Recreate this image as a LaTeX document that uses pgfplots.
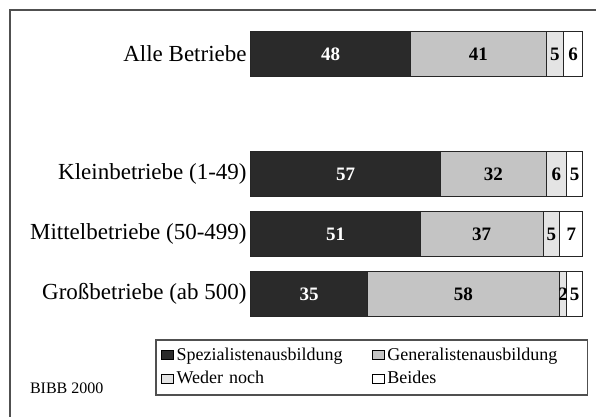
\documentclass[border=0pt]{standalone}
\usepackage{fontspec}
\setmainfont{Liberation Serif}
\usepackage{pgfplots}
\usepackage{pgfplotstable}
\pgfplotsset{compat=1.18}

\definecolor{spez}{HTML}{2A2A2A}
\definecolor{gen}{HTML}{C4C4C4}
\definecolor{weder}{HTML}{E4E4E4}
\definecolor{rahmen}{HTML}{505050}

% y: 0 = Grossbetriebe ... 4 = Alle Betriebe
\pgfplotstableread{
y spez gen weder beides
0 35 58 2 5
1 51 37 5 7
2 57 32 6 5
4 48 41 5 6
}\anteile

\begin{document}
\begin{tikzpicture}
% 1 px of the scan = 0.5pt
\path[use as bounding box] (0pt,0pt) rectangle (298pt,208.5pt);
% frame (only left and top edge are visible in the scan)
\draw[rahmen, line width=1pt] (5pt,0pt) -- (5pt,203.5pt) -- (298pt,203.5pt);
\node[anchor=west, font=\fontsize{8}{9}\selectfont] at (11.5pt,14.5pt) {BIBB 2000};

\begin{axis}[
  at={(125.5pt,61.5pt)}, anchor=origin,
  x=1.66pt, y=30pt,
  xmin=0, xmax=100, ymin=-0.6, ymax=4.6,
  xbar stacked, bar width=0.75,
  axis line style={draw=none},
  major tick length=0pt,
  xtick=\empty,
  ytick={0,1,2,4},
  yticklabels={Großbetriebe (ab 500),Mittelbetriebe (50-499),Kleinbetriebe (1-49),Alle Betriebe},
  yticklabel style={font=\fontsize{11.5}{13}\selectfont, inner sep=0pt, xshift=-2pt},
  clip=false,
  point meta=explicit symbolic,
  nodes near coords,
  every node near coord/.append style={anchor=center,
    font=\fontsize{9.5}{11}\selectfont\bfseries},
  legend columns=2,
  legend cell align=left,
  legend style={at={(axis cs:-28.9,-0.75)}, anchor=north west,
    draw=rahmen, line width=0.8pt,
    font=\fontsize{9}{10}\selectfont,
    nodes={text width=96pt, inner sep=1.5pt},
    row sep=1pt, inner sep=2.5pt},
  legend image code/.code={\draw[#1, draw=black, line width=0.4pt] (0pt,-2pt) rectangle (6pt,2.5pt);},
]
\addplot[fill=spez, draw=black!85, line width=0.5pt, nodes near coords style={text=white}]
  table[x=spez, y=y, meta=spez] {\anteile};
\addplot[fill=gen, draw=black!85, line width=0.5pt]
  table[x=gen, y=y, meta=gen] {\anteile};
\addplot[fill=weder, draw=black!85, line width=0.5pt]
  table[x=weder, y=y, meta=weder] {\anteile};
\addplot[fill=white, draw=black!85, line width=0.5pt]
  table[x=beides, y=y, meta=beides] {\anteile};
\legend{Spezialistenausbildung,Generalistenausbildung,Weder noch,Beides}
\end{axis}
\end{tikzpicture}
\end{document}
